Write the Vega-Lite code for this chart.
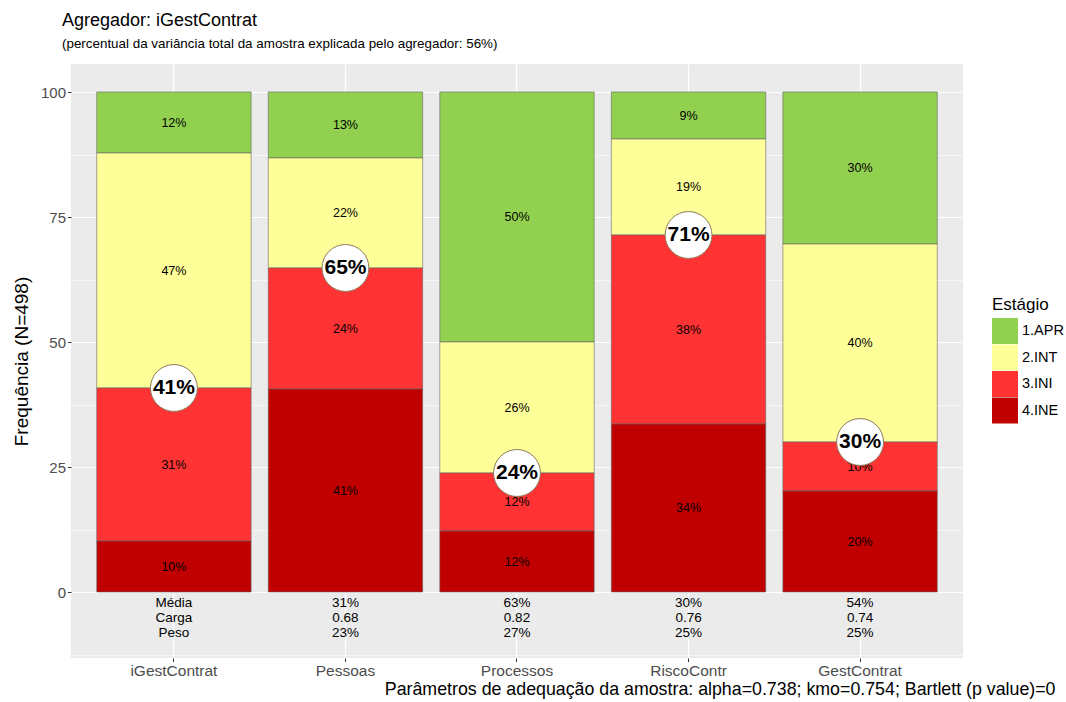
{
  "$schema": "https://vega.github.io/schema/vega-lite/v6.json",
  "width": 892,
  "height": 594,
  "autosize": {"type": "none"},
  "padding": {"left": 71, "top": 64, "right": 103, "bottom": 44},
  "background": "white",
  "config": {
    "font": "Liberation Sans",
    "view": {"fill": "#EBEBEB", "stroke": null}
  },
  "title": {
    "text": "Agregador: iGestContrat",
    "subtitle": "(percentual da variância total da amostra explicada pelo agregador: 56%)",
    "anchor": "start",
    "frame": "group",
    "dx": -9,
    "offset": 14,
    "fontSize": 18,
    "fontWeight": "normal",
    "color": "black",
    "subtitleFontSize": 13.4,
    "subtitleColor": "black",
    "subtitlePadding": 7
  },
  "datasets": {
    "stages": [
      {"cat": "iGestContrat", "stage": "1.APR", "value": 12.2, "label": "12%"},
      {"cat": "iGestContrat", "stage": "2.INT", "value": 47.0, "label": "47%"},
      {"cat": "iGestContrat", "stage": "3.INI", "value": 30.6, "label": "31%"},
      {"cat": "iGestContrat", "stage": "4.INE", "value": 10.2, "label": "10%"},
      {"cat": "Pessoas", "stage": "1.APR", "value": 13.2, "label": "13%"},
      {"cat": "Pessoas", "stage": "2.INT", "value": 22.0, "label": "22%"},
      {"cat": "Pessoas", "stage": "3.INI", "value": 24.2, "label": "24%"},
      {"cat": "Pessoas", "stage": "4.INE", "value": 40.6, "label": "41%"},
      {"cat": "Processos", "stage": "1.APR", "value": 50.0, "label": "50%"},
      {"cat": "Processos", "stage": "2.INT", "value": 26.2, "label": "26%"},
      {"cat": "Processos", "stage": "3.INI", "value": 11.6, "label": "12%"},
      {"cat": "Processos", "stage": "4.INE", "value": 12.2, "label": "12%"},
      {"cat": "RiscoContr", "stage": "1.APR", "value": 9.4, "label": "9%"},
      {"cat": "RiscoContr", "stage": "2.INT", "value": 19.2, "label": "19%"},
      {"cat": "RiscoContr", "stage": "3.INI", "value": 37.8, "label": "38%"},
      {"cat": "RiscoContr", "stage": "4.INE", "value": 33.6, "label": "34%"},
      {"cat": "GestContrat", "stage": "1.APR", "value": 30.4, "label": "30%"},
      {"cat": "GestContrat", "stage": "2.INT", "value": 39.6, "label": "40%"},
      {"cat": "GestContrat", "stage": "3.INI", "value": 9.8, "label": "10%"},
      {"cat": "GestContrat", "stage": "4.INE", "value": 20.2, "label": "20%"}
    ],
    "circles": [
      {"cat": "iGestContrat", "value": 40.8, "label": "41%"},
      {"cat": "Pessoas", "value": 64.8, "label": "65%"},
      {"cat": "Processos", "value": 23.8, "label": "24%"},
      {"cat": "RiscoContr", "value": 71.4, "label": "71%"},
      {"cat": "GestContrat", "value": 30.0, "label": "30%"}
    ],
    "notes": [
      {"cat": "iGestContrat", "text": "Média\nCarga\nPeso"},
      {"cat": "Pessoas", "text": "31%\n0.68\n23%"},
      {"cat": "Processos", "text": "63%\n0.82\n27%"},
      {"cat": "RiscoContr", "text": "30%\n0.76\n25%"},
      {"cat": "GestContrat", "text": "54%\n0.74\n25%"}
    ]
  },
  "encoding": {
    "x": {
      "field": "cat",
      "type": "nominal",
      "sort": ["iGestContrat", "Pessoas", "Processos", "RiscoContr", "GestContrat"],
      "scale": {"paddingInner": 0.1, "paddingOuter": 0.15},
      "axis": {
        "title": "Parâmetros de adequação da amostra: alpha=0.738; kmo=0.754; Bartlett (p value)=0",
        "titleFontSize": 17.8,
        "titleFontWeight": "normal",
        "titleColor": "black",
        "titleAlign": "right",
        "titleAnchor": null,
        "titleX": 984,
        "titleY": 36,
        "titleBaseline": "alphabetic",
        "labelAngle": 0,
        "labelFontSize": 15.5,
        "labelColor": "#4D4D4D",
        "labelPadding": 2,
        "tickSize": 3.5,
        "tickColor": "#333333",
        "domain": false,
        "grid": true,
        "gridColor": "white",
        "gridWidth": 1.2,
        "bandPosition": 0.5
      }
    }
  },
  "layer": [
    {
      "data": {"name": "stages"},
      "mark": {"type": "bar", "stroke": "#666666", "strokeWidth": 0.6},
      "encoding": {
        "y": {
          "field": "value",
          "type": "quantitative",
          "stack": "zero",
          "scale": {"domain": [-13.2, 105.6], "nice": false, "zero": false},
          "axis": {
            "title": "Frequência (N=498)",
            "titleFontSize": 19,
            "titleFontWeight": "normal",
            "titleColor": "black",
            "titlePadding": 9,
            "values": [-12.5, 0, 12.5, 25, 37.5, 50, 62.5, 75, 87.5, 100],
            "labelExpr": "(datum.value % 25 === 0 && datum.value >= 0) ? datum.label : ''",
            "labelFontSize": 15,
            "labelColor": "#4D4D4D",
            "labelPadding": 2,
            "tickSize": 3.5,
            "tickColor": "#333333",
            "tickOpacity": {"condition": {"test": "datum.value % 25 !== 0 || datum.value < 0", "value": 0}, "value": 1},
            "domain": false,
            "grid": true,
            "gridColor": "white",
            "gridWidth": {"condition": {"test": "datum.value % 25 !== 0", "value": 0.6}, "value": 1.2}
          }
        },
        "color": {
          "field": "stage",
          "type": "nominal",
          "scale": {
            "domain": ["1.APR", "2.INT", "3.INI", "4.INE"],
            "range": ["#92D050", "#FFFF99", "#FF3333", "#C00000"]
          },
          "legend": {
            "title": "Estágio",
            "orient": "none",
            "legendX": 921,
            "legendY": 233,
            "padding": 0,
            "titleFontSize": 17,
            "titleFontWeight": "normal",
            "titleColor": "black",
            "titlePadding": 4,
            "labelFontSize": 14.5,
            "labelColor": "black",
            "labelOffset": 4,
            "symbolType": "square",
            "symbolSize": 676,
            "symbolStrokeWidth": 0,
            "rowPadding": 0.5
          }
        },
        "order": {"field": "stage", "sort": "descending"}
      }
    },
    {
      "data": {"name": "stages"},
      "transform": [
        {"stack": "value", "groupby": ["cat"], "sort": [{"field": "stage", "order": "descending"}], "as": ["y0", "y1"]},
        {"calculate": "(datum.y0 + datum.y1) / 2", "as": "mid"}
      ],
      "mark": {"type": "text", "fontSize": 12.5, "color": "black", "baseline": "middle"},
      "encoding": {
        "y": {"field": "mid", "type": "quantitative"},
        "text": {"field": "label"}
      }
    },
    {
      "data": {"name": "circles"},
      "mark": {"type": "point", "shape": "circle", "filled": true, "fill": "white", "stroke": "#8C7B5A", "strokeWidth": 1, "size": 2200, "opacity": 1},
      "encoding": {
        "y": {"field": "value", "type": "quantitative"}
      }
    },
    {
      "data": {"name": "circles"},
      "mark": {"type": "text", "fontSize": 21, "fontWeight": "bold", "color": "black", "baseline": "middle"},
      "encoding": {
        "y": {"field": "value", "type": "quantitative"},
        "text": {"field": "label"}
      }
    },
    {
      "data": {"name": "notes"},
      "mark": {"type": "text", "fontSize": 13.5, "lineHeight": 15, "lineBreak": "\n", "color": "black", "baseline": "top", "dy": 4},
      "encoding": {
        "y": {"datum": 0},
        "text": {"field": "text"}
      }
    }
  ]
}
